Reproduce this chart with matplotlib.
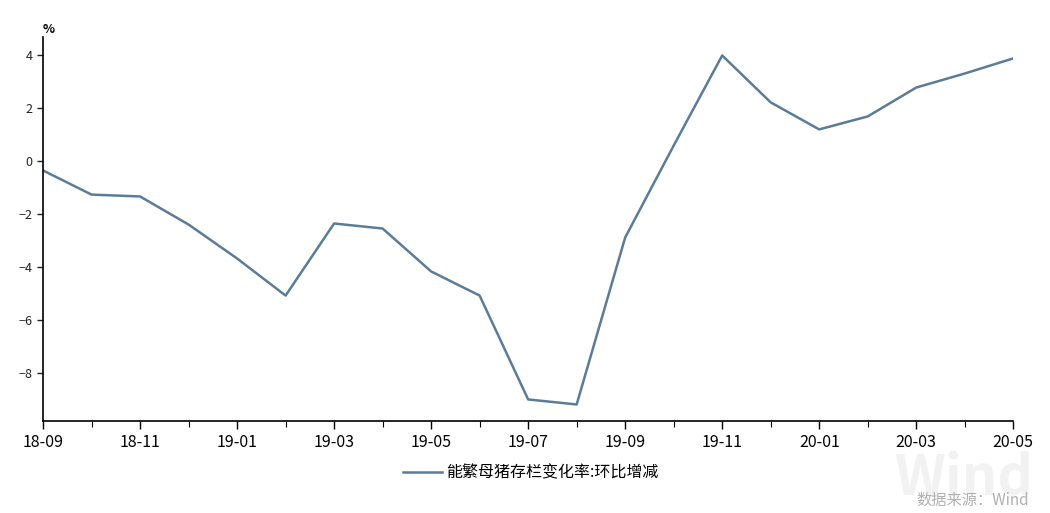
import matplotlib.pyplot as plt

plt.rcParams['font.family'] = ['Noto Sans CJK SC', 'DejaVu Sans']

months = ['18-09', '18-10', '18-11', '18-12', '19-01', '19-02', '19-03',
          '19-04', '19-05', '19-06', '19-07', '19-08', '19-09', '19-10',
          '19-11', '19-12', '20-01', '20-02', '20-03', '20-04', '20-05']
change = [-0.34, -1.25, -1.32, -2.38, -3.66, -5.06, -2.34,
          -2.53, -4.15, -5.06, -8.98, -9.17, -2.87, 0.6,
          4.0, 2.23, 1.21, 1.70, 2.79, 3.32, 3.89]
series_name = '能繁母猪存栏变化率:环比增减'

fig = plt.figure(figsize=(10.5, 5.13), dpi=100)
ax = fig.add_axes([0.041, 0.179, 0.924, 0.749])

x = list(range(len(months)))
ax.plot(x, change, color='#5b7c98', linewidth=1.8, label=series_name)

ax.set_xlim(0, len(months) - 1)
ax.set_ylim(-9.8, 4.7)
ax.set_yticks([-8, -6, -4, -2, 0, 2, 4])
ax.set_xticks(x[::2])
ax.set_xticklabels(months[::2])
ax.set_xticks(x, minor=True)

for s in ['top', 'right']:
    ax.spines[s].set_visible(False)
for s in ['left', 'bottom']:
    ax.spines[s].set_linewidth(1.2)

ax.tick_params(axis='x', which='major', length=6, width=1, labelsize=11.5, pad=3)
ax.tick_params(axis='x', which='minor', length=4, width=0.8)
ax.tick_params(axis='y', length=4, width=1, labelsize=9, colors='#222222')

ax.text(0.0, 4.75, '%', fontsize=9, fontweight='bold', ha='left', va='bottom')

fig.legend(loc='center', bbox_to_anchor=(0.505, 0.078), frameon=False,
           fontsize=11.5, handlelength=2.5, handletextpad=0.2)

# watermark
fig.text(0.985, 0.035, 'Wind', fontsize=40, fontweight='bold', color='#f2f2f2',
         ha='right', va='baseline', zorder=0)
fig.text(0.98, 0.008, '数据来源：Wind', fontsize=11, color='#b0b0b0',
         ha='right', va='bottom', zorder=1)

fig.savefig('out.png', dpi=100)
